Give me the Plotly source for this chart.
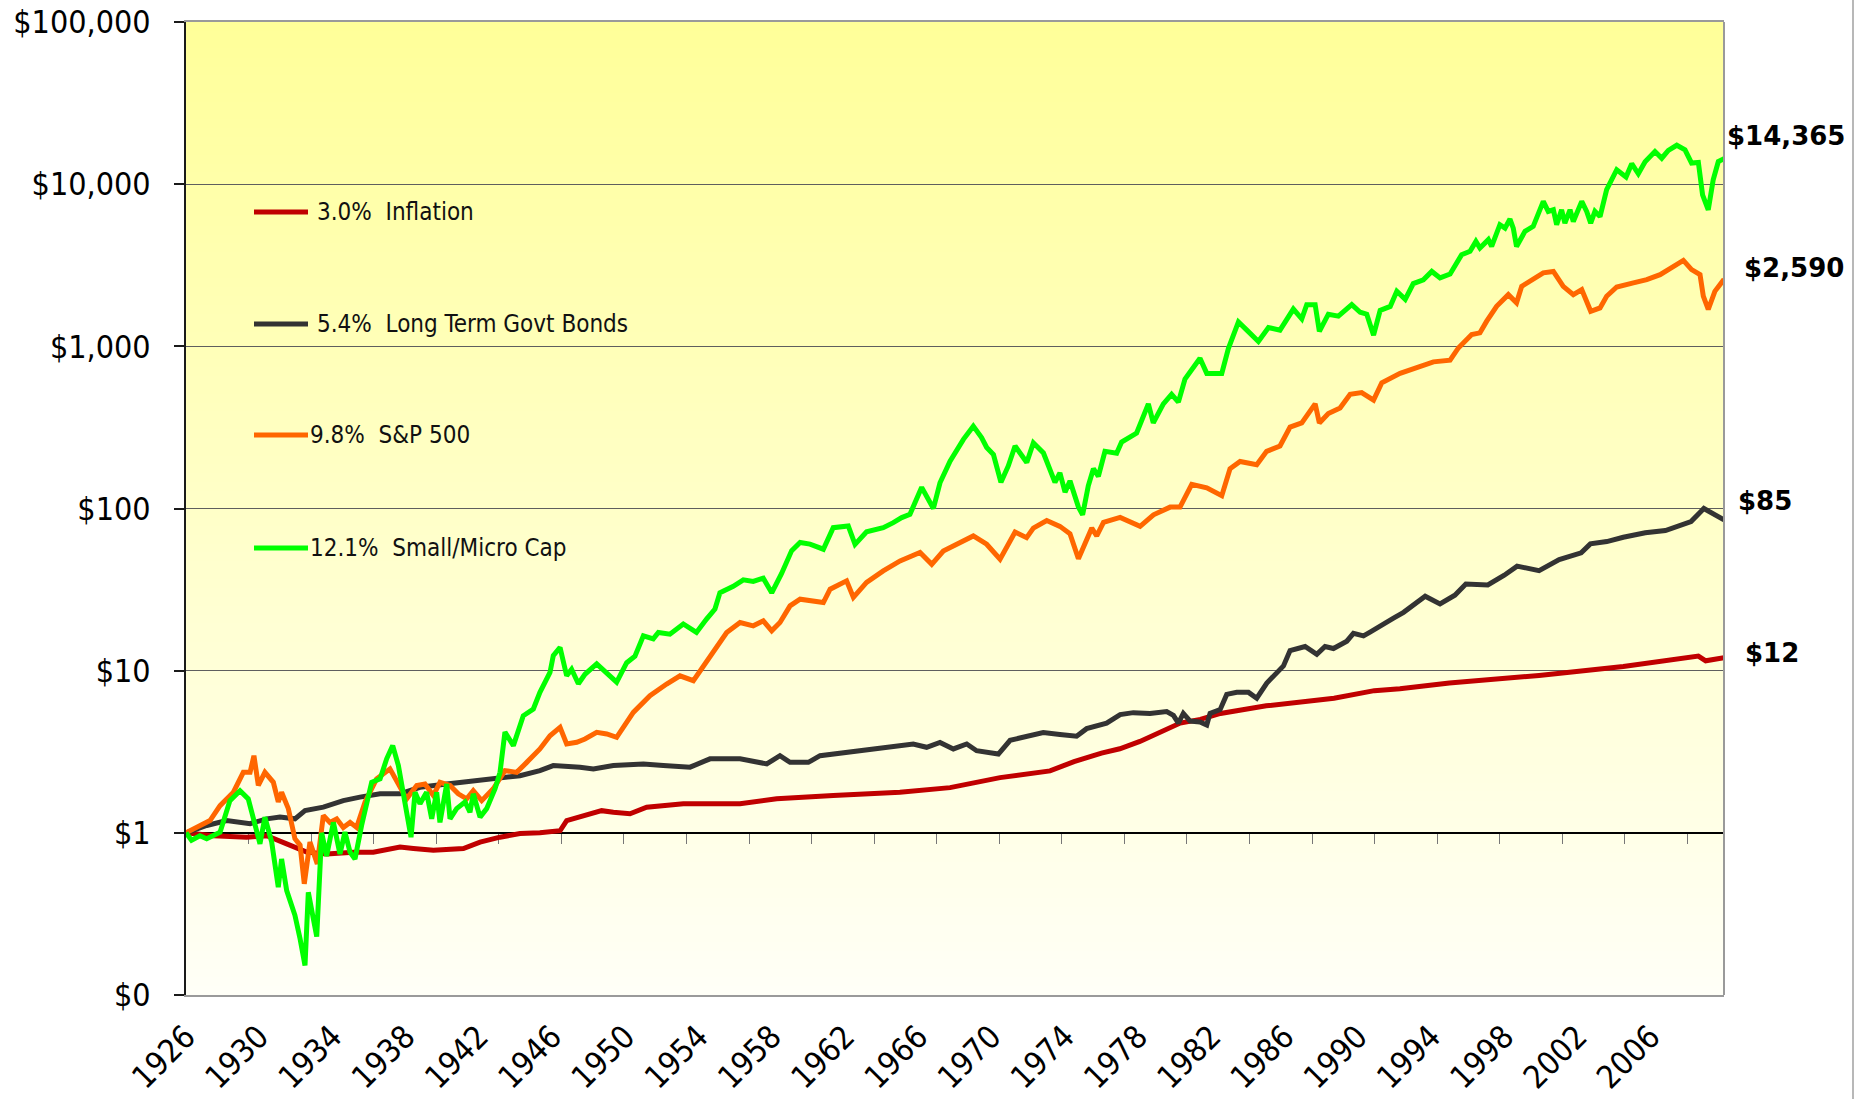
import plotly.graph_objects as go

# ---------------- data ----------------
infl_years = [1926.0, 1927.49, 1929.31, 1930.41, 1931.5, 1932.59, 1933.68, 1935.14, 1936.23, 1937.69,
              1938.42, 1939.51, 1941.15, 1942.06, 1943.15, 1944.24, 1945.33, 1946.43, 1946.79, 1947.52,
              1948.7, 1949.34, 1950.25, 1951.16, 1953.16, 1956.26, 1958.26, 1961.35, 1964.99, 1967.73,
              1970.46, 1973.19, 1974.5, 1976.0, 1977.0, 1978.1, 1980.3, 1981.4, 1982.5, 1985.0,
              1986.9, 1988.7, 1990.9, 1992.3, 1995.0, 1999.9, 2004.5, 2008.6, 2009.0, 2010.0]
infl_values = [1.00, 0.96, 0.94, 0.96, 0.855, 0.76, 0.74, 0.76, 0.76, 0.817,
               0.80, 0.78, 0.80, 0.877, 0.94, 0.99, 1.00, 1.03, 1.19, 1.25,
               1.37, 1.34, 1.31, 1.44, 1.51, 1.51, 1.62, 1.70, 1.78, 1.90,
               2.19, 2.41, 2.75, 3.10, 3.30, 3.66, 4.75, 5.01, 5.45, 6.07,
               6.41, 6.76, 7.53, 7.74, 8.39, 9.35, 10.6, 12.3, 11.5, 12.0]

bond_years = [1926.0, 1927.13, 1928.22, 1929.5, 1930.41, 1931.13, 1931.95, 1932.5, 1933.5, 1934.59,
              1935.5, 1936.6, 1937.69, 1938.78, 1940.24, 1941.69, 1942.97, 1944.24, 1945.33, 1946.06,
              1947.52, 1948.25, 1949.34, 1950.98, 1952.07, 1953.53, 1954.62, 1956.26, 1957.72, 1958.44,
              1958.99, 1959.99, 1960.63, 1962.27, 1964.08, 1965.72, 1966.45, 1967.18, 1967.91, 1968.64,
              1969.18, 1970.37, 1971.01, 1971.91, 1972.82, 1973.73, 1974.64, 1975.19, 1976.28, 1977.02,
              1977.74, 1978.65, 1979.56, 1979.93, 1980.2, 1980.47, 1980.84, 1981.38, 1981.75, 1981.93,
              1982.48, 1982.84, 1983.39, 1984.03, 1984.48, 1985.03, 1985.57, 1985.94, 1986.3, 1987.12,
              1987.76, 1988.21, 1988.67, 1989.4, 1989.76, 1990.31, 1990.67, 1991.22, 1991.95, 1992.5,
              1993.04, 1993.68, 1994.49, 1995.3, 1995.9, 1997.1, 1998.0, 1998.7, 1999.9, 2001.0,
              2002.2, 2002.7, 2003.6, 2004.5, 2005.7, 2006.8, 2008.2, 2008.9, 2010.0]
bond_values = [1.00, 1.11, 1.19, 1.14, 1.22, 1.25, 1.22, 1.37, 1.44, 1.58,
               1.66, 1.74, 1.74, 1.91, 2.00, 2.09, 2.15, 2.25, 2.42, 2.60,
               2.54, 2.48, 2.60, 2.66, 2.60, 2.54, 2.86, 2.86, 2.66, 2.99,
               2.72, 2.72, 2.99, 3.14, 3.32, 3.53, 3.37, 3.61, 3.29, 3.53,
               3.21, 3.06, 3.72, 3.94, 4.15, 4.04, 3.94, 4.39, 4.75, 5.36,
               5.51, 5.45, 5.60, 5.30, 4.75, 5.45, 4.89, 4.83, 4.62, 5.45,
               5.75, 7.14, 7.35, 7.35, 6.76, 8.39, 9.62, 10.7, 13.3, 14.1,
               12.6, 14.1, 13.7, 15.2, 17.0, 16.4, 17.3, 19.0, 21.1, 22.9,
               25.6, 28.8, 25.8, 29.2, 34.2, 33.8, 38.8, 44.1, 41.4, 48.4,
               53.3, 60.5, 62.5, 66.5, 70.8, 73.1, 83.0, 100.0, 85.0]

sp_years = [1926.0, 1926.58, 1927.31, 1927.86, 1928.59, 1929.13, 1929.5, 1929.71, 1929.95, 1930.31,
            1930.77, 1931.04, 1931.22, 1931.59, 1931.95, 1932.23, 1932.46, 1932.77, 1933.17, 1933.5,
            1933.86, 1934.23, 1934.59, 1934.96, 1935.32, 1935.78, 1936.41, 1937.14, 1937.51, 1938.05,
            1938.6, 1939.05, 1939.51, 1939.87, 1940.42, 1940.87, 1941.33, 1941.69, 1942.15, 1942.78,
            1943.42, 1944.06, 1944.61, 1945.33, 1945.88, 1946.43, 1946.79, 1947.34, 1947.79, 1948.43,
            1948.98, 1949.52, 1950.43, 1951.34, 1952.25, 1952.98, 1953.71, 1954.25, 1954.98, 1955.53,
            1956.26, 1956.98, 1957.53, 1957.99, 1958.44, 1958.99, 1959.54, 1960.26, 1960.81, 1961.18,
            1962.08, 1962.45, 1963.17, 1964.08, 1965.0, 1966.09, 1966.73, 1967.36, 1968.27, 1969.0,
            1969.73, 1970.46, 1971.28, 1971.91, 1972.28, 1973.01, 1973.73, 1974.28, 1974.74, 1975.01,
            1975.47, 1975.74, 1976.11, 1977.02, 1978.11, 1978.84, 1979.75, 1980.29, 1980.93, 1981.75,
            1982.57, 1983.02, 1983.57, 1984.48, 1985.02, 1985.75, 1986.3, 1986.94, 1987.67, 1987.9,
            1988.39, 1989.03, 1989.58, 1990.21, 1990.86, 1991.31, 1992.31, 1993.22, 1994.13, 1995.04,
            1995.49, 1996.22, 1996.67, 1997.04, 1997.58, 1998.22, 1998.67, 1998.95, 1999.58, 2000.13,
            2000.68, 2001.22, 2001.77, 2002.23, 2002.72, 2003.23, 2003.59, 2004.14, 2005.05, 2005.78,
            2006.51, 2007.05, 2007.78, 2008.23, 2008.69, 2008.87, 2009.14, 2009.5, 2010.0]
sp_values = [1.00, 1.08, 1.19, 1.47, 1.78, 2.36, 2.36, 2.99, 1.96, 2.36,
             2.05, 1.55, 1.78, 1.41, 0.92, 0.84, 0.485, 0.877, 0.644, 1.28,
             1.16, 1.22, 1.08, 1.16, 1.08, 1.55, 2.15, 2.48, 2.10, 1.62,
             1.96, 2.00, 1.70, 2.05, 1.96, 1.74, 1.62, 1.82, 1.58, 1.87,
             2.42, 2.36, 2.72, 3.29, 3.97, 4.47, 3.53, 3.62, 3.79, 4.17,
             4.07, 3.88, 5.53, 7.01, 8.27, 9.3, 8.67, 10.7, 14.3, 17.2,
             19.8, 18.9, 20.3, 17.6, 19.8, 25.1, 27.6, 26.9, 26.3, 31.8,
             35.8, 28.3, 35.0, 41.2, 47.5, 53.5, 45.3, 54.7, 61.6, 67.7,
             60.2, 48.7, 71.6, 66.1, 75.7, 84.3, 77.6, 69.8, 49.0, 57.7,
             75.7, 67.9, 82.2, 88.1, 77.6, 91.4, 102, 102, 141, 134,
             120, 176, 195, 186, 225, 243, 318, 337, 442, 337,
             385, 417, 506, 519, 466, 596, 681, 738, 802, 822,
             977, 1183, 1211, 1429, 1766, 2084, 1854, 2344, 2576, 2838,
             2897, 2344, 2084, 2239, 1644, 1726, 2037, 2323, 2460, 2576,
             2767, 3041, 3388, 2972, 2767, 2037, 1687, 2183, 2590]

small_years = [1926.0, 1926.3, 1926.76, 1927.13, 1927.86, 1928.4, 1928.95, 1929.4, 1929.59, 1930.04,
               1930.31, 1930.68, 1931.04, 1931.22, 1931.5, 1931.95, 1932.23, 1932.5, 1932.68, 1933.14,
               1933.41, 1933.68, 1934.05, 1934.41, 1934.68, 1934.96, 1935.23, 1935.59, 1936.14, 1936.6,
               1936.96, 1937.29, 1937.6, 1938.05, 1938.29, 1938.51, 1938.78, 1939.14, 1939.42, 1939.69,
               1939.87, 1940.24, 1940.42, 1940.78, 1941.24, 1941.51, 1941.69, 1942.06, 1942.42, 1942.88,
               1943.15, 1943.42, 1943.88, 1944.42, 1944.97, 1945.33, 1945.88, 1946.06, 1946.43, 1946.79,
               1947.06, 1947.43, 1947.79, 1948.43, 1948.88, 1949.52, 1950.07, 1950.52, 1950.98, 1951.52,
               1951.8, 1952.43, 1953.16, 1953.88, 1954.43, 1954.89, 1955.16, 1955.89, 1956.44, 1956.98,
               1957.53, 1957.99, 1958.53, 1959.08, 1959.54, 1960.08, 1960.81, 1961.35, 1962.17, 1962.54,
               1963.17, 1964.08, 1964.63, 1965.09, 1965.54, 1966.18, 1966.82, 1967.18, 1967.73, 1968.46,
               1969.0, 1969.45, 1969.73, 1970.1, 1970.51, 1970.91, 1971.28, 1971.92, 1972.28, 1972.83,
               1973.46, 1973.73, 1974.01, 1974.28, 1974.74, 1974.97, 1975.28, 1975.56, 1975.83, 1976.19,
               1976.83, 1977.1, 1977.92, 1978.56, 1978.83, 1979.38, 1979.83, 1980.2, 1980.56, 1980.93,
               1981.38, 1981.75, 1982.57, 1982.93, 1983.48, 1983.94, 1984.57, 1985.12, 1985.75, 1986.48,
               1986.94, 1987.21, 1987.67, 1987.9, 1988.39, 1988.94, 1989.67, 1990.13, 1990.49, 1990.86,
               1991.22, 1991.77, 1992.13, 1992.59, 1993.03, 1993.58, 1994.04, 1994.49, 1995.04, 1995.67,
               1996.13, 1996.45, 1996.67, 1997.13, 1997.31, 1997.76, 1998.04, 1998.31, 1998.49, 1998.67,
               1999.13, 1999.58, 2000.13, 2000.4, 2000.68, 2000.86, 2001.13, 2001.31, 2001.59, 2001.77,
               2002.23, 2002.5, 2002.72, 2002.95, 2003.23, 2003.59, 2004.14, 2004.65, 2004.96, 2005.32,
               2005.69, 2006.23, 2006.6, 2006.96, 2007.42, 2007.87, 2008.23, 2008.6, 2008.83, 2009.14,
               2009.41, 2009.69, 2010.0]
small_values = [1.00, 0.90, 0.96, 0.92, 1.01, 1.58, 1.82, 1.62, 1.34, 0.855,
                1.25, 0.877, 0.462, 0.69, 0.44, 0.31, 0.222, 0.152, 0.43, 0.229,
                1.00, 0.72, 1.16, 0.74, 1.01, 0.76, 0.69, 1.11, 2.05, 2.15,
                2.86, 3.45, 2.60, 1.34, 0.94, 1.78, 1.51, 1.78, 1.22, 1.78,
                1.16, 2.00, 1.22, 1.41, 1.55, 1.34, 1.74, 1.25, 1.41, 1.87,
                2.36, 4.18, 3.45, 5.27, 5.80, 7.35, 9.75, 12.4, 13.9, 9.3,
                10.2, 8.3, 9.5, 11.0, 9.8, 8.5, 11.2, 12.3, 16.4, 15.7,
                17.2, 16.8, 19.4, 17.2, 20.8, 24.0, 30.2, 33.1, 36.3, 35.5,
                37.2, 30.2, 39.8, 55, 61.7, 60.3, 56.1, 76.2, 78, 60.1,
                71.8, 76.2, 81.8, 87.9, 92.2, 135, 100, 144, 196, 267,
                322, 274, 238, 215, 145, 183, 243, 192, 254, 220,
                145, 166, 126, 148, 102, 91.4, 138, 176, 158, 225,
                219, 257, 292, 442, 337, 442, 506, 453, 628, 719,
                845, 681, 681, 968, 1413, 1259, 1072, 1306, 1259, 1698,
                1479, 1807, 1807, 1236, 1578, 1535, 1807, 1622, 1578, 1172,
                1667, 1762, 2188, 1950, 2438, 2570, 2897, 2642, 2793, 3673,
                3855, 4436, 4036, 4550, 4130, 5623, 5358, 6095, 5358, 4130,
                5117, 5495, 7834, 6792, 6950, 5623, 6950, 5754, 6950, 5888,
                7834, 6792, 5754, 6792, 6310, 9247, 12274, 11066, 13366, 11588,
                13740, 15888, 14454, 16140, 17378, 16293, 13490, 13614, 8590, 6950,
                10641, 13804, 14365]

series_names = ["3.0%\u00a0 Inflation", "5.4%\u00a0 Long Term Govt Bonds", "9.8%\u00a0 S&P 500", "12.1%\u00a0 Small/Micro Cap"]
end_labels = ["$12", "$85", "$2,590", "$14,365"]

y_tick_values = [0.1, 1, 10, 100, 1000, 10000, 100000]
y_tick_text = ["$0", "$1", "$10", "$100", "$1,000", "$10,000", "$100,000"]
x_label_years = list(range(1926, 2007, 4))

# ---------------- styling ----------------
colors = ["#C00000", "#333333", "#FF6600", "#00FF00"]
FONT = "DejaVu Sans Condensed, Liberation Sans, Arial, sans-serif"
W, H = 1864, 1099
ML, MR, MT, MB = 186, 140, 22, 104
PW, PH = W - ML - MR, H - MT - MB


def px_x(p):
    return (p - ML) / PW


def px_y(p):
    return (H - MB - p) / PH


fig = go.Figure()
# invisible helper so the secondary x axis (the $1 baseline with its tick marks) is drawn
fig.add_trace(go.Scatter(x=infl_years, y=infl_values, xaxis="x2", mode="lines",
                         line=dict(width=0, color="rgba(0,0,0,0)"), showlegend=False, hoverinfo="skip"))
for xs, ys, c in [(infl_years, infl_values, colors[0]), (bond_years, bond_values, colors[1]),
                  (sp_years, sp_values, colors[2]), (small_years, small_values, colors[3])]:
    fig.add_trace(go.Scatter(x=xs, y=ys, mode="lines", line=dict(color=c, width=5),
                             showlegend=False, hoverinfo="skip"))

shapes = []
# vertical gradient background
N = 110
top = (0xFF, 0xFF, 0x99)
bot = (0xFF, 0xFF, 0xF7)
for i in range(N):
    f = (i + 0.5) / N
    col = tuple(round(bot[k] + (top[k] - bot[k]) * f) for k in range(3))
    shapes.append(dict(type="rect", xref="paper", yref="paper", x0=0, x1=1,
                       y0=i / N, y1=(i + 1) / N + 0.002, layer="below",
                       fillcolor="rgb(%d,%d,%d)" % col, line=dict(width=0)))
# right plot border
shapes.append(dict(type="line", xref="paper", yref="paper", x0=1, x1=1, y0=0, y1=1,
                   line=dict(color="#9A9A9A", width=2)))
# far right slide border
shapes.append(dict(type="line", xref="paper", yref="paper", x0=px_x(1853), x1=px_x(1853),
                   y0=px_y(H + 5), y1=px_y(-5), line=dict(color="#A0A0A0", width=1.5)))

annotations = []
legend_rows = [212, 324, 435, 548]
legend_text_x = [315, 315, 308, 308]
for i in range(4):
    yy = px_y(legend_rows[i])
    shapes.append(dict(type="line", xref="paper", yref="paper", x0=px_x(254), x1=px_x(308),
                       y0=yy, y1=yy, line=dict(color=colors[i], width=5)))
    annotations.append(dict(xref="paper", yref="paper", x=px_x(legend_text_x[i]), y=yy,
                            text=series_names[i], showarrow=False, xanchor="left", yanchor="middle",
                            font=dict(family=FONT, size=24, color="#111111")))

end_pos = [(1743, 653), (1736, 501), (1742, 268), (1725, 136)]
for i in range(4):
    annotations.append(dict(xref="paper", yref="paper", x=px_x(end_pos[i][0]), y=px_y(end_pos[i][1]),
                            text="<b>%s</b>" % end_labels[i], showarrow=False, xanchor="left",
                            yanchor="middle", font=dict(family="DejaVu Sans, Verdana, sans-serif",
                                                        size=26, color="#000000")))

minor_ticks = [1926 + k * 41 / 12 for k in range(1, 25)]

fig.update_layout(
    width=W, height=H, autosize=False,
    margin=dict(l=ML, r=MR, t=MT, b=MB, pad=0, autoexpand=False),
    paper_bgcolor="white", plot_bgcolor="#FFFFF7",
    shapes=shapes, annotations=annotations, showlegend=False,
    xaxis=dict(range=[1926, 2010], tickvals=x_label_years, ticktext=[str(y) for y in x_label_years],
               tickangle=-45, showgrid=False, zeroline=False, showline=True, linecolor="#9A9A9A",
               linewidth=2, mirror=True, ticks="", automargin=False, ticklabelstandoff=8,
               tickfont=dict(family=FONT, size=32, color="#000000")),
    xaxis2=dict(range=[1926, 2010], overlaying="x", anchor="free", position=1 / 6,
                showline=True, linecolor="#000000", linewidth=1.5, ticks="outside", ticklen=10,
                tickwidth=1, tickcolor="#777777", tickvals=minor_ticks, showticklabels=False,
                showgrid=False, zeroline=False, layer="below traces", automargin=False),
    yaxis=dict(type="log", range=[-1, 5], tickvals=y_tick_values, ticktext=y_tick_text,
               showgrid=True, gridcolor="#5E5E5E", gridwidth=1, zeroline=False,
               showline=True, linecolor="#1A1A1A", linewidth=2, ticks="outside", ticklen=10,
               tickwidth=1.5, tickcolor="#1A1A1A", ticklabelstandoff=17, automargin=False,
               tickfont=dict(family=FONT, size=32, color="#000000")),
)

fig.write_html("out.html", config={"displayModeBar": False},
               post_script="document.body.style.margin='0';document.body.style.overflow='hidden';")
